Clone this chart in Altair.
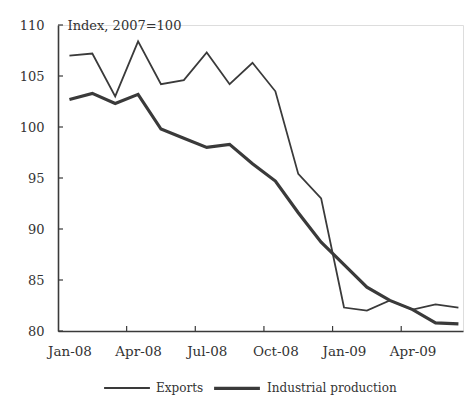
import altair as alt
import pandas as pd

months = ["Jan-08", "Feb-08", "Mar-08", "Apr-08", "May-08", "Jun-08", "Jul-08", "Aug-08",
          "Sep-08", "Oct-08", "Nov-08", "Dec-08", "Jan-09", "Feb-09", "Mar-09", "Apr-09",
          "May-09", "Jun-09"]
exports = [107.0, 107.2, 103.0, 108.4, 104.2, 104.6, 107.3, 104.2, 106.3, 103.5, 95.4, 93.0,
           82.3, 82.0, 83.0, 82.1, 82.6, 82.3]
industrial = [102.7, 103.3, 102.3, 103.2, 99.8, 98.9, 98.0, 98.3, 96.4, 94.7, 91.6, 88.7,
              86.5, 84.3, 83.0, 82.1, 80.8, 80.7]
series_names = ["Exports", "Industrial production"]
y_ticks = [80, 85, 90, 95, 100, 105, 110]
x_label_positions = [0, 3, 6, 9, 12, 15]
x_tick_positions = [2.5, 5.5, 8.5, 11.5, 14.5]

rows = []
for i, m in enumerate(months):
    rows.append({"idx": i, "month": m, "series": series_names[0], "value": exports[i]})
    rows.append({"idx": i, "month": m, "series": series_names[1], "value": industrial[i]})
df = pd.DataFrame(rows)

FONT = "DejaVu Serif"
INK = "#3a3a3a"
Y_TITLE = "Index, 2007=100"

label_arr = "[" + ",".join("'" + m + "'" for m in months) + "]"
label_expr = label_arr + "[datum.value]"

xscale = alt.Scale(domain=[-0.5, 17.2], nice=False, zero=False)
yscale = alt.Scale(domain=[80, 110], nice=False, zero=False)

def x_axis():
    return alt.Axis(values=x_label_positions, labelExpr=label_expr,
                    tickSize=0, labelPadding=13, grid=False,
                    domainColor=INK, domainWidth=1.6, labelFont=FONT,
                    labelFontSize=13.5, labelColor="#333", labelFlush=False)

def y_axis():
    return alt.Axis(values=y_ticks, tickSize=0, labelPadding=14, grid=False,
                    domainColor=INK, domainWidth=1.6, labelFont=FONT,
                    labelFontSize=13, labelColor="#333",
                    titleAngle=0, titleAlign="left", titleBaseline="middle",
                    titleX=9, titleY=0, titleFont=FONT, titleFontSize=13,
                    titleFontWeight="normal", titleColor="#333")

leg = dict(title=None, orient="none", legendX=45, legendY=338, direction="horizontal",
           symbolType="stroke", symbolSize=2100,
           labelFont=FONT, labelFontSize=12, labelColor="#333",
           columnPadding=3, labelOffset=5)

lines = alt.Chart(df).mark_line().encode(
    x=alt.X("idx:Q", scale=xscale, title=None, axis=x_axis()),
    y=alt.Y("value:Q", scale=yscale, title=Y_TITLE, axis=y_axis()),
    color=alt.Color("series:N", sort=series_names,
                    scale=alt.Scale(domain=series_names, range=[INK, INK]),
                    legend=alt.Legend(**leg)),
    strokeWidth=alt.StrokeWidth("series:N", sort=series_names,
                                scale=alt.Scale(domain=series_names, range=[1.8, 3.2]),
                                legend=alt.Legend(**leg)),
    detail="series:N",
)

ytick_df = pd.DataFrame({"value": y_ticks})
yticks = alt.Chart(ytick_df).mark_rule(color=INK, strokeWidth=1.2).encode(
    y=alt.Y("value:Q", scale=yscale, title=Y_TITLE, axis=y_axis()),
    x=alt.value(0), x2=alt.value(5),
)

xtick_df = pd.DataFrame({"idx": x_tick_positions})
xticks = alt.Chart(xtick_df).mark_rule(color=INK, strokeWidth=1.2).encode(
    x=alt.X("idx:Q", scale=xscale, title=None, axis=x_axis()),
    y=alt.value(306), y2=alt.value(301),
)

chart = alt.layer(lines, yticks, xticks).properties(
    width=405, height=306,
    padding={"left": 11, "top": 11, "right": 0, "bottom": 0},
).configure_view(stroke=None).configure(background="white")

chart.save("out.html", embed_options={"renderer": "svg", "actions": False})
